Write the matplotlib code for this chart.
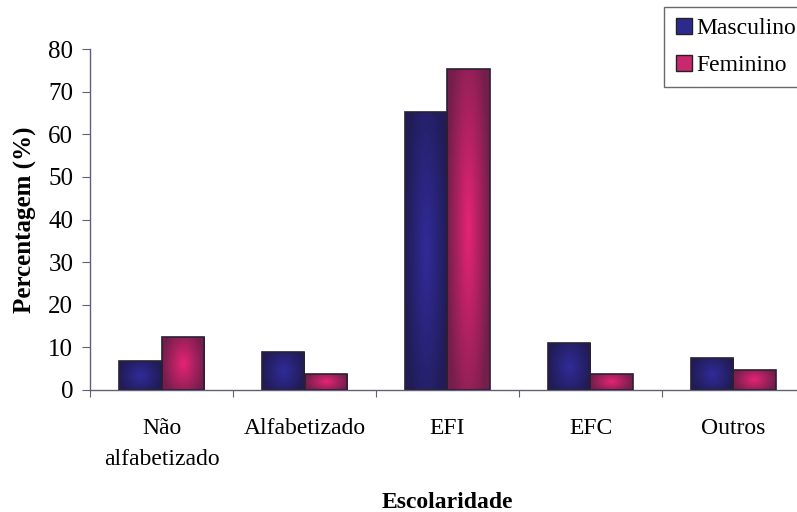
import numpy as np
import matplotlib.pyplot as plt
from matplotlib.colors import LinearSegmentedColormap
from matplotlib.lines import Line2D

plt.rcParams['font.family'] = ['Liberation Serif', 'DejaVu Serif']

categorias = ["Não\nalfabetizado", "Alfabetizado", "EFI", "EFC", "Outros"]
masculino = [6.8, 8.9, 65.3, 11.0, 7.4]
feminino = [12.4, 3.8, 75.4, 3.8, 4.7]

fig = plt.figure(figsize=(7.97, 5.12), dpi=100)
ax = fig.add_axes([90 / 797, 122 / 512, 715 / 797, 341 / 512])

# radial shading: bright middle, dark rim
ny, nx = 60, 40
gx, gy = np.meshgrid(np.linspace(-1, 1, nx), np.linspace(-1, 1, ny))
shade = np.clip(np.sqrt(gx ** 2 + 0.5 * gy ** 2), 0, 1)

cmap_m = LinearSegmentedColormap.from_list("m", [(0.19, 0.17, 0.60), (0.13, 0.11, 0.34)])
cmap_f = LinearSegmentedColormap.from_list("f", [(0.90, 0.14, 0.46), (0.46, 0.12, 0.30)])

x = np.arange(len(categorias))
w = 0.3


def shaded_bars(xs, vals, cmap):
    bars = ax.bar(xs, vals, width=w, facecolor="none", edgecolor="#2a2035",
                  linewidth=1.2, zorder=3)
    for b in bars:
        x0, y0 = b.get_x(), b.get_y()
        im = ax.imshow(shade, cmap=cmap, vmin=0, vmax=1, aspect="auto",
                       extent=(x0, x0 + b.get_width(), y0, y0 + b.get_height()),
                       origin="lower", zorder=2, interpolation="bilinear")
        im.set_clip_path(b)
    return bars


shaded_bars(x - w / 2, masculino, cmap_m)
shaded_bars(x + w / 2, feminino, cmap_f)

ax.set_xlim(-0.5, len(categorias) - 0.5)
ax.set_ylim(0, 80)
ax.set_yticks(np.arange(0, 81, 10))
ax.tick_params(axis="y", labelsize=18, length=6, color="#606078", pad=6)

ax.set_xticks(np.arange(-0.5, len(categorias), 1.0))
ax.set_xticklabels([])
ax.set_xticks(x, minor=True)
ax.set_xticklabels(categorias, minor=True, fontsize=17, linespacing=1.65)
ax.tick_params(axis="x", which="major", length=5, color="#606078")
ax.tick_params(axis="x", which="minor", length=0, pad=20)

for s in ("top", "right"):
    ax.spines[s].set_visible(False)
for s in ("left", "bottom"):
    ax.spines[s].set_color("#606078")
    ax.spines[s].set_linewidth(1.0)

ax.set_ylabel("Percentagem (%)", fontsize=18, fontweight="bold", labelpad=8)
ax.set_xlabel("Escolaridade", fontsize=17, fontweight="bold", labelpad=16)

handles = [
    Line2D([], [], marker="s", linestyle="none", markersize=12,
           markerfacecolor="#2c2a8c", markeredgecolor="#222222", label="Masculino"),
    Line2D([], [], marker="s", linestyle="none", markersize=12,
           markerfacecolor="#c8286e", markeredgecolor="#222222", label="Feminino"),
]
leg = fig.legend(handles=handles, loc="upper left", bbox_to_anchor=(664 / 797, 1 - 7 / 512),
                 fontsize=17, frameon=True, fancybox=False, handletextpad=0.1,
                 handlelength=0.8, borderpad=0.45, labelspacing=0.65, borderaxespad=0)
leg.get_frame().set_edgecolor("#444444")
leg.get_frame().set_linewidth(1.0)

fig.savefig("out.png", dpi=100)
